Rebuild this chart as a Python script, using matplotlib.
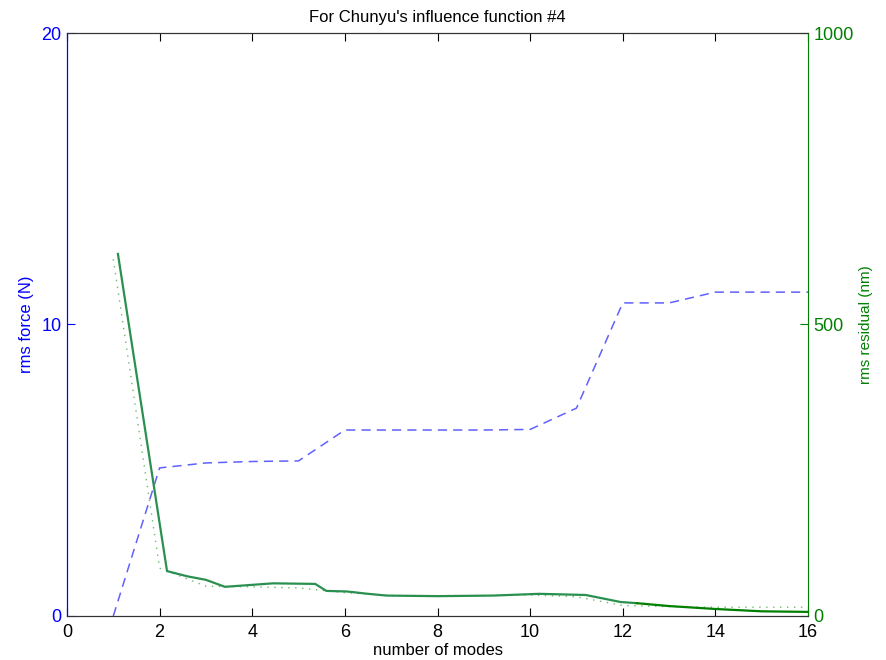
import matplotlib.pyplot as plt

plt.rcParams['font.family'] = ['Liberation Sans Narrow', 'Liberation Sans', 'DejaVu Sans']

modes = [1, 2, 3, 4, 5, 6, 7, 8, 9, 10, 11, 12, 13, 14, 15, 16]
force = [0, 5.08, 5.25, 5.3, 5.32, 6.38, 6.38, 6.38, 6.38, 6.4, 7.13, 10.74, 10.74, 11.11, 11.11, 11.11]

# rms residual (solid), finer sampling
res_x = [1.1, 2.16, 2.6, 3.0, 3.41, 4.45, 5.36, 5.6, 6.05, 6.5, 6.9, 8.0, 9.2, 10.2, 11.2, 11.95, 12.3]
res_y = [621, 77, 68, 62, 50, 56, 55, 43, 42, 38, 35, 34, 35, 38, 36, 24, 22]
res2_x = [12.3, 13.0, 14.0, 15.0, 16.0]
res2_y = [22, 17, 12, 8, 7]

# residual estimate (dotted)
est_y = [612, 82, 51, 50, 48, 40, 35, 35, 35, 36, 33, 18, 16, 15, 15, 15]

fig = plt.figure(figsize=(8.86, 6.6), dpi=100)
ax = fig.add_axes([0.0756, 0.0667, 0.8364, 0.8833])
ax2 = ax.twinx()

ax.plot(modes, force, color='#6060ff', linestyle=(0, (6, 4)), linewidth=1.1)
ax2.plot(modes, est_y, color='#70b870', linestyle=(0, (1, 4)), linewidth=1.0)
ax2.plot(res_x, res_y, color='#2a9050', linewidth=1.6)
ax2.plot(res2_x, res2_y, color='#007f00', linewidth=1.6)

ax.set_xlim(0, 16)
ax.set_ylim(0, 20)
ax2.set_ylim(0, 1000)
ax.set_xticks(range(0, 17, 2))
ax.set_yticks([0, 10, 20])
ax2.set_yticks([0, 500, 1000])

ax.tick_params(axis='x', direction='in', length=6, top=True, labelsize=13, colors='black', pad=6)
ax.tick_params(axis='y', direction='in', length=6, labelsize=13, colors='#0000ff', pad=4)
ax2.tick_params(axis='y', direction='in', length=6, labelsize=13, colors='#008000', pad=4)

for a in (ax, ax2):
    a.spines['top'].set_color('#333333')
    a.spines['bottom'].set_color('#333333')
ax.spines['left'].set_color('#0000ff')
ax2.spines['left'].set_color('#0000ff')
ax2.spines['right'].set_color('#008000')
ax.spines['right'].set_visible(False)

ax.set_title("For Chunyu's influence function #4", fontsize=12, pad=8)
ax.set_xlabel('number of modes', fontsize=12, labelpad=1)
ax.set_ylabel('rms force (N)', fontsize=12, color='#0000ff')
ax2.set_ylabel('rms residual (nm)', fontsize=11, color='#008000')
ax.yaxis.set_label_coords(-0.0445, 0.5)
ax2.yaxis.set_label_coords(1.069, 0.5)

fig.savefig('out.png', dpi=100)
